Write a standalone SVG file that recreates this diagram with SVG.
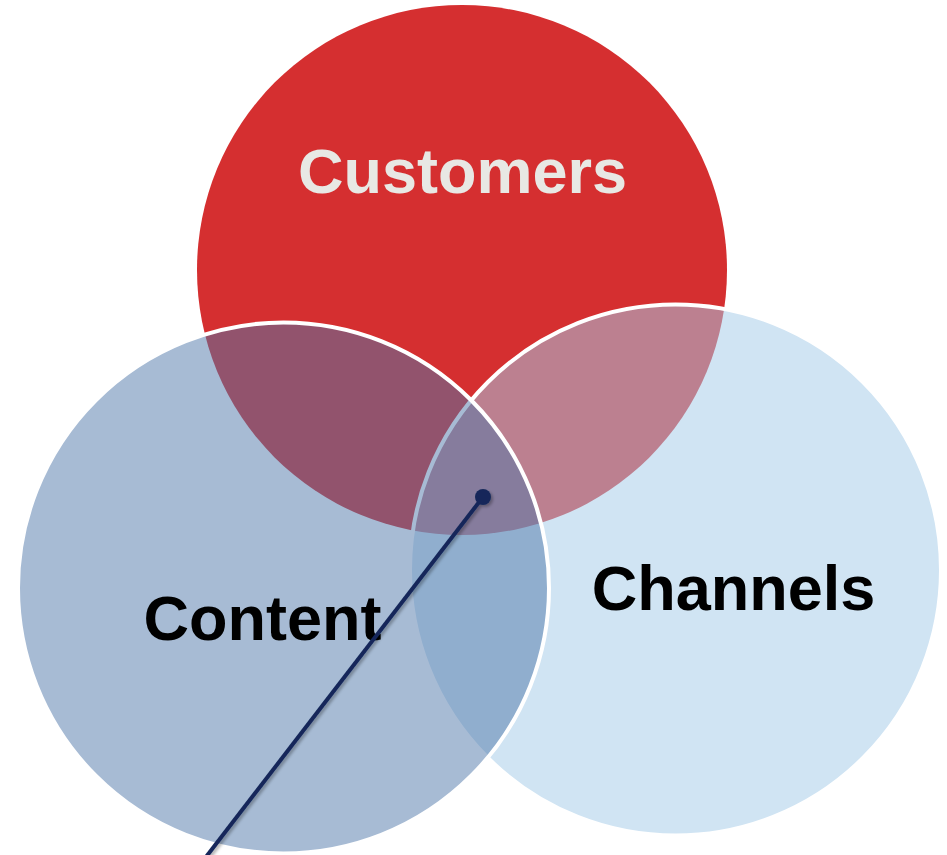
<svg xmlns="http://www.w3.org/2000/svg" width="947" height="855" viewBox="0 0 947 855">
  <defs>
    <style>
      .lbl { font-family: "Liberation Sans", Arial, sans-serif; font-weight: bold; font-size: 63px; text-anchor: middle; }
      .ring { stroke: #ffffff; stroke-width: 4; }
    </style>
    <filter id="sh" x="-20%" y="-20%" width="140%" height="140%">
      <feDropShadow dx="2" dy="2" stdDeviation="1.5" flood-color="#000" flood-opacity="0.3"/>
    </filter>
  </defs>
  <rect width="947" height="855" fill="#ffffff"/>
  <g id="customers">
    <circle cx="462" cy="270" r="265" fill="#d52f30"/>
  </g>
  <g id="channels">
    <circle class="ring" cx="675.5" cy="570" r="265.5" fill="rgb(165,203,232)" fill-opacity="0.52"/>
  </g>
  <g id="content">
    <circle class="ring" cx="283.5" cy="588" r="265.5" fill="rgb(79,119,169)" fill-opacity="0.5"/>
  </g>
  <g id="labels">
    <text class="lbl" x="462.5" y="193" fill="#e8e8e4">Customers</text>
    <text class="lbl" x="262.5" y="640" fill="#000000">Content</text>
    <text class="lbl" x="733.5" y="610" fill="#000000">Channels</text>
  </g>
  <g id="connectors" filter="url(#sh)">
    <line x1="483" y1="497" x2="206" y2="857" stroke="#14285a" stroke-width="4"/>
    <circle cx="483" cy="497" r="8" fill="#14285a"/>
  </g>
</svg>
